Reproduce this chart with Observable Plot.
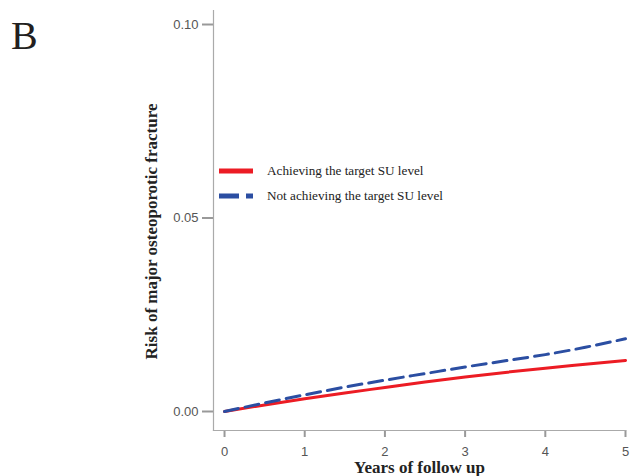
<!DOCTYPE html>
<html>
<head>
<meta charset="utf-8">
<script src="https://cdn.jsdelivr.net/npm/d3@7"></script>
<script src="https://cdn.jsdelivr.net/npm/@observablehq/plot@0.6"></script>
<style>
  html, body { margin: 0; padding: 0; background: #fff; }
  #wrap { position: relative; width: 643px; height: 476px; overflow: hidden; }
  #panel { position: absolute; left: 11px; top: 16px; font-family: "Liberation Serif", "Times New Roman", serif; font-size: 40px; line-height: 1; color: #231f20; }
  #legend { position: absolute; left: 219px; top: 158px; font-family: "Liberation Serif", "Times New Roman", serif; font-size: 13.2px; color: #222; }
  #legend .row { display: flex; align-items: center; height: 25px; }
  #legend svg { margin-right: 14px; }
</style>
</head>
<body>
<div id="wrap"></div>
<script>
const years = [0, 0.5, 1, 1.5, 2, 2.5, 3, 3.5, 4, 4.5, 5];
const achieving = [0, 0.0017, 0.0033, 0.0048, 0.0062, 0.0076, 0.0089, 0.0101, 0.0112, 0.0122, 0.0132];
const notAchieving = [0, 0.0022, 0.0043, 0.0063, 0.0081, 0.0098, 0.0115, 0.0131, 0.0147, 0.0166, 0.0188];
const seriesNames = ["Achieving the target SU level", "Not achieving the target SU level"];
const xTicks = [0, 1, 2, 3, 4, 5];
const yTicks = [0.00, 0.05, 0.10];
const panelLabel = "B";
const xTitle = "Years of follow up";
const yTitle = "Risk of major osteoporotic fracture";

const colors = ["#ec1c24", "#2b4ea2"];
const data = [];
years.forEach((t, i) => {
  data.push({t, v: achieving[i], s: seriesNames[0]});
  data.push({t, v: notAchieving[i], s: seriesNames[1]});
});

const serif = '"Liberation Serif", "Times New Roman", serif';
const sans = '"Liberation Sans", Arial, sans-serif';

const chart = Plot.plot({
  width: 643,
  height: 476,
  marginLeft: 213,
  marginRight: 18,
  marginTop: 10,
  marginBottom: 46,
  x: {domain: [-0.1375, 5], label: null},
  y: {domain: [-0.00491, 0.10362], label: null},
  style: {background: "#fff", fontFamily: sans},
  marks: [
    Plot.axisY({ticks: yTicks, tickFormat: d3.format(".2f"), tickSize: 11, tickPadding: 4, fontSize: 13, color: "#555", stroke: "#999", strokeWidth: 2, label: null}),
    Plot.axisX({ticks: xTicks, tickFormat: d3.format("d"), tickSize: 7, tickPadding: 9, fontSize: 13, color: "#555", stroke: "#999", strokeWidth: 2, label: null}),
    Plot.frame({anchor: "left", stroke: "#aaa", strokeWidth: 1.2}),
    Plot.frame({anchor: "bottom", stroke: "#aaa", strokeWidth: 1.2}),
    Plot.line(data.filter(d => d.s === seriesNames[0]), {x: "t", y: "v", stroke: colors[0], strokeWidth: 3, curve: "monotone-x"}),
    Plot.line(data.filter(d => d.s === seriesNames[1]), {x: "t", y: "v", stroke: colors[1], strokeWidth: 3, strokeDasharray: "14,7", curve: "monotone-x"}),
    Plot.text([xTitle], {frameAnchor: "bottom", text: d => d, dy: 37, fontFamily: serif, fontWeight: "bold", fontSize: 17, fill: "#222", lineAnchor: "middle"}),
    Plot.text([yTitle], {frameAnchor: "left", text: d => d, rotate: -90, textAnchor: "middle", dx: -62, dy: 11, fontFamily: serif, fontWeight: "bold", fontSize: 17, fill: "#222"})
  ]
});

const wrap = document.getElementById("wrap");
wrap.appendChild(chart);

const panel = document.createElement("div");
panel.id = "panel";
panel.textContent = panelLabel;
wrap.appendChild(panel);

const legend = document.createElement("div");
legend.id = "legend";
seriesNames.forEach((name, i) => {
  const row = document.createElement("div");
  row.className = "row";
  const dash = i === 1 ? 'stroke-dasharray="20,7"' : '';
  row.innerHTML = `<svg width="34" height="8"><line x1="0" y1="4" x2="34" y2="4" stroke="${colors[i]}" stroke-width="5" ${dash}/></svg><span>${name}</span>`;
  legend.appendChild(row);
});
wrap.appendChild(legend);
</script>
</body>
</html>
